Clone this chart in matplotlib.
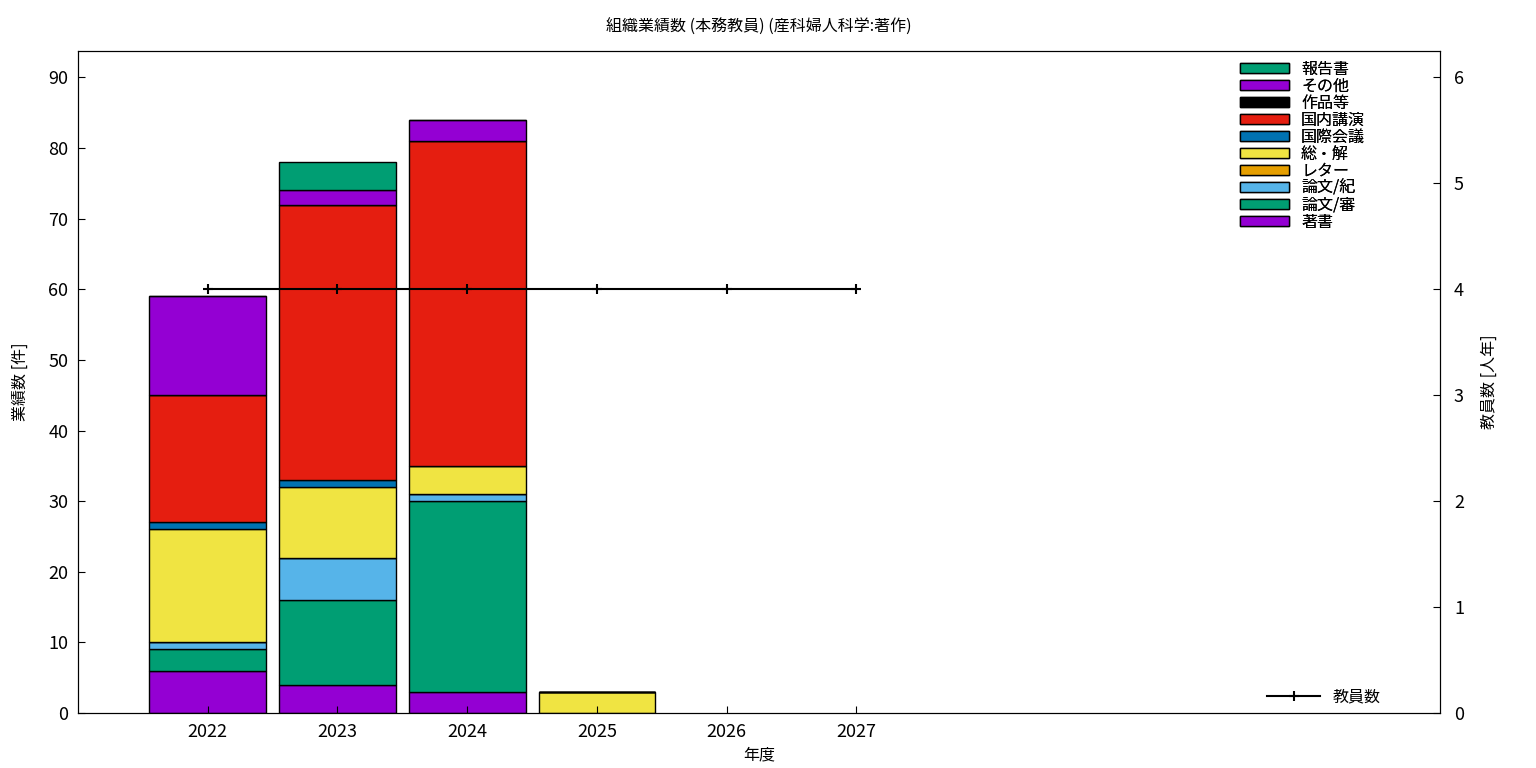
import matplotlib
matplotlib.use("Agg")
import matplotlib.pyplot as plt
import matplotlib.patches as mpatches
import matplotlib.lines as mlines
import numpy as np

plt.rcParams['font.family'] = ['Noto Sans CJK JP', 'DejaVu Sans']

years = [2022, 2023, 2024, 2025]
# stack order bottom -> top
categories = ["著書", "論文/審", "論文/紀", "レター", "総・解", "国際会議", "国内講演", "作品等", "その他", "報告書"]
colors = ["#9400d3", "#009e73", "#56b4e9", "#e69f00", "#f0e442", "#0072b2", "#e51e10", "#000000", "#9400d3", "#009e73"]

chosho = [6, 4, 3, 0]
ronbun_shin = [3, 12, 27, 0]
ronbun_ki = [1, 6, 1, 0]
letter = [0, 0, 0, 0]
sokai = [16, 10, 4, 3]
kokusai = [1, 1, 0, 0]
kokunai = [18, 39, 46, 0]
sakuhin = [0, 0, 0, 0]
sonota = [14, 2, 3, 0]
hokoku = [0, 4, 0, 0]
series = [chosho, ronbun_shin, ronbun_ki, letter, sokai, kokusai, kokunai, sakuhin, sonota, hokoku]

staff_years = [2022, 2023, 2024, 2025, 2026, 2027]
staff = [4, 4, 4, 4, 4, 4]

fig = plt.figure(figsize=(15.36, 7.68), dpi=100)
ax = fig.add_axes([0.0508, 0.0716, 0.8867, 0.862])

bottom = np.zeros(len(years))
for name, vals, c in zip(categories, series, colors):
    vals = np.array(vals, dtype=float)
    ax.bar(years, vals, width=0.9, bottom=bottom, color=c, edgecolor="black", linewidth=1.0)
    bottom += vals

ax.set_xlim(2021.0, 2031.5)
ax.set_ylim(0, 93.75)
ax.set_xticks(staff_years)
ax.set_yticks(range(0, 91, 10))
ax.tick_params(direction="in", labelsize=13, length=5, pad=7)
ax.set_xlabel("年度", fontsize=11.5, labelpad=4)
ax.set_ylabel("業績数 [件]", fontsize=11.5, labelpad=14)
ax.set_title("組織業績数 (本務教員) (産科婦人科学:著作)", fontsize=11.5, pad=14)

ax2 = ax.twinx()
ax2.plot(staff_years, staff, color="black", marker="+", markersize=7, markeredgewidth=1.5, linewidth=1.5)
ax2.set_ylim(0, 6.25)
ax2.set_yticks(range(0, 7))
ax2.tick_params(direction="in", labelsize=13, length=5, pad=10)
ax2.set_ylabel("教員数 [人年]", fontsize=11.5, labelpad=12)

handles = [mpatches.Patch(facecolor=c, edgecolor="black", linewidth=1.0, label=n)
           for n, c in zip(categories, colors)][::-1]
leg = ax.legend(handles=handles, loc="upper right", bbox_to_anchor=(0.952, 1.0), frameon=False,
                fontsize=11.5, handlelength=3.1, handleheight=0.6, labelspacing=0.0,
                handletextpad=0.75, borderaxespad=0.2)
ax.add_artist(leg)

line_handle = mlines.Line2D([], [], color="black", marker="+", markersize=7, markeredgewidth=1.5,
                            linewidth=1.5, label="教員数")
ax2.legend(handles=[line_handle], loc="lower right", bbox_to_anchor=(0.967, -0.01), frameon=False,
           fontsize=11.5, handlelength=3.3, handletextpad=0.8)

fig.savefig("out.png", dpi=100)
